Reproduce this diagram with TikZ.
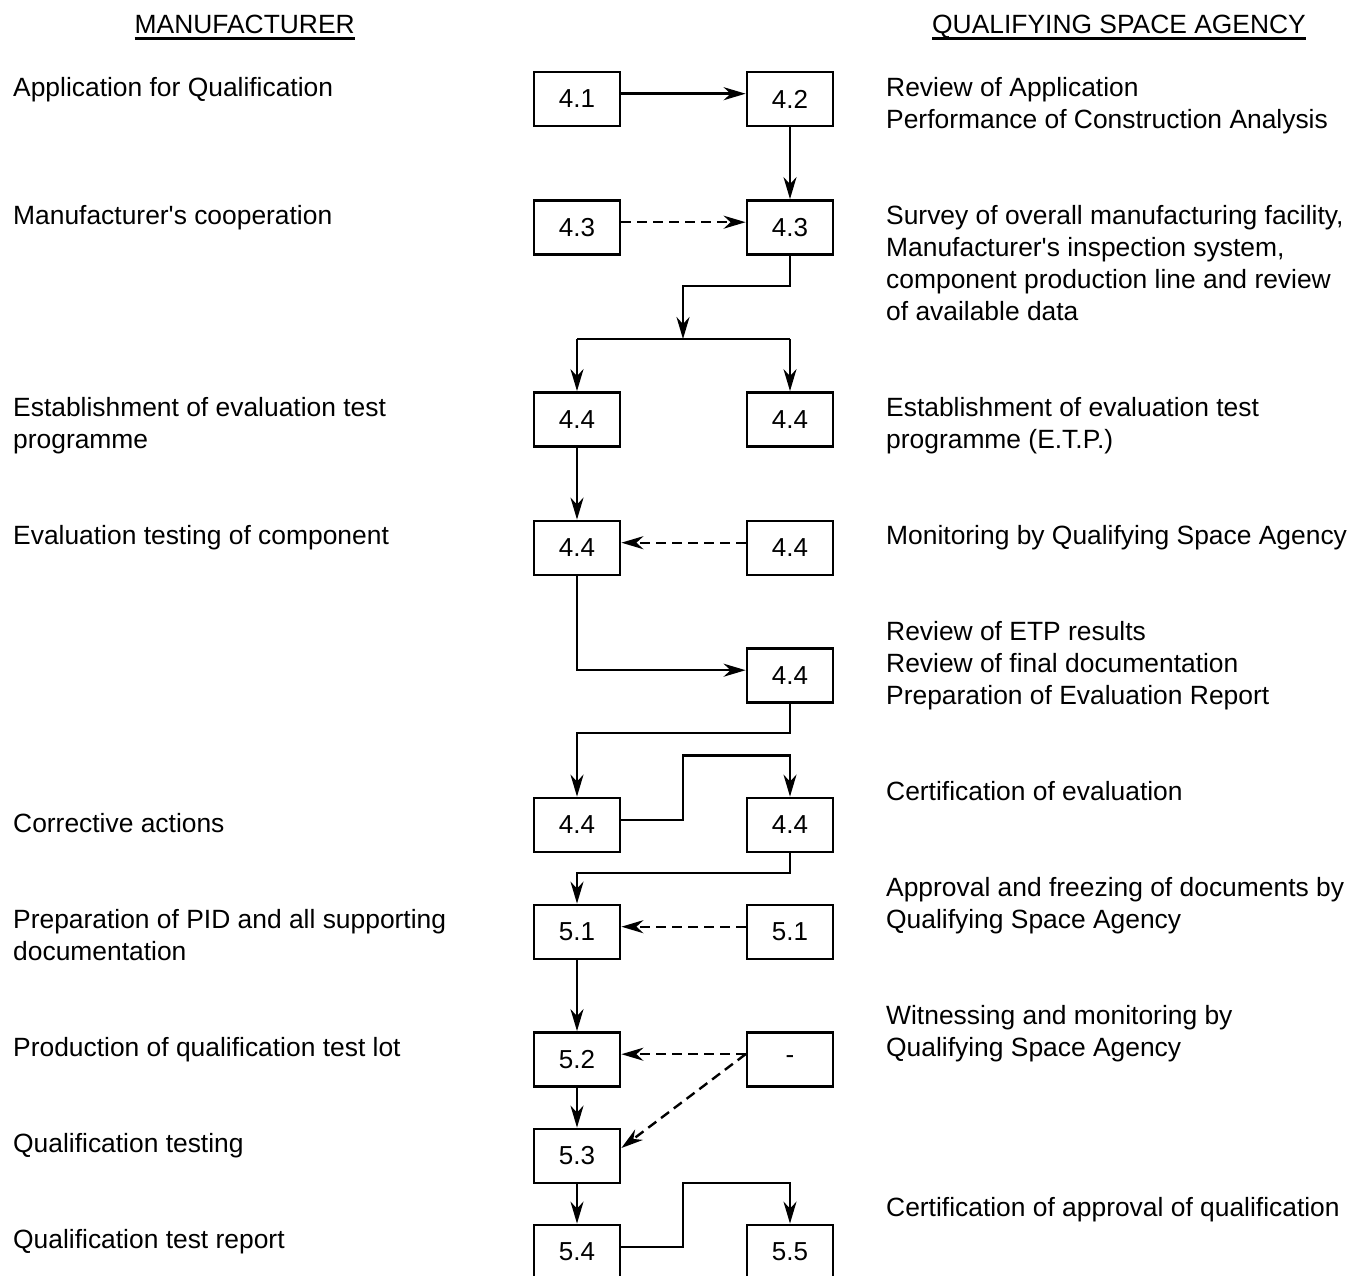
\documentclass[tikz,border=0pt]{standalone}
\usepackage{fontspec}
\setmainfont{Liberation Sans}
\usetikzlibrary{arrows.meta}
\begin{document}
\begin{tikzpicture}[x=1pt,y=-1pt,
  box/.style={draw, line width=2.8pt, minimum width=86pt, minimum height=54pt, inner sep=0pt, font=\fontsize{26}{31}\selectfont},
  lbl/.style={anchor=north west, inner sep=0pt, align=left, font=\fontsize{26.4}{32}\selectfont},
  head/.style={anchor=base west, inner sep=0pt, font=\fontsize{26.4}{32}\selectfont},
  conn/.style={line width=2.4pt},
  arr/.style={line width=2.4pt, -{Stealth[length=22pt,width=13pt,inset=7pt]}},
  dsh/.style={arr, dash pattern=on 10pt off 6pt}]
\clip (0,0) rectangle (1353,1276);
\fill[white] (0,0) rectangle (1353,1276);

% headers
\node[head] (hm) at (134.5,33.5) {MANUFACTURER};
\node[head] (hq) at (932,33.5) {QUALIFYING SPACE AGENCY};
\draw[line width=2.4pt] ([yshift=-5pt]hm.base west) -- ([yshift=-5pt]hm.base east);
\draw[line width=2.4pt] ([yshift=-5pt]hq.base west) -- ([yshift=-5pt]hq.base east);

% left texts
\node[lbl] (l1) at (13,74.1) {\strut Application for Qualification};
\node[lbl] (l2) at (13,202.1) {\strut Manufacturer\textquotesingle s cooperation};
\node[lbl] (l3) at (13,394.1) {\strut Establishment of evaluation test\\programme};
\node[lbl] (l4) at (13,522.1) {\strut Evaluation testing of component};
\node[lbl] (l5) at (13,810.1) {\strut Corrective actions};
\node[lbl] (l6) at (13,906.1) {\strut Preparation of PID and all supporting\\documentation};
\node[lbl] (l7) at (13,1034.1) {\strut Production of qualification test lot};
\node[lbl] (l8) at (13,1130.1) {\strut Qualification testing};
\node[lbl] (l9) at (13,1226.1) {\strut Qualification test report};

% right texts
\node[lbl] (r1) at (886,74.1) {\strut Review of Application\\Performance of Construction Analysis};
\node[lbl] (r2) at (886,202.1) {\strut Survey of overall manufacturing facility,\\Manufacturer\textquotesingle s inspection system,\\component production line and review\\of available data};
\node[lbl] (r3) at (886,394.1) {\strut Establishment of evaluation test\\programme (E.T.P.)};
\node[lbl] (r4) at (886,522.1) {\strut Monitoring by Qualifying Space Agency};
\node[lbl] (r5) at (886,618.1) {\strut Review of ETP results\\Review of final documentation\\Preparation of Evaluation Report};
\node[lbl] (r6) at (886,778.1) {\strut Certification of evaluation};
\node[lbl] (r7) at (886,874.1) {\strut Approval and freezing of documents by\\Qualifying Space Agency};
\node[lbl] (r8) at (886,1002.1) {\strut Witnessing and monitoring by\\Qualifying Space Agency};
\node[lbl] (r9) at (886,1194.1) {\strut Certification of approval of qualification};

% boxes
\node[box] (b41) at (577,99) {4.1};
\node[box] (b42) at (790,99) {4.2};
\node[box] (b43a) at (577,227.5) {4.3};
\node[box] (b43b) at (790,227.5) {4.3};
\node[box] (b44a) at (577,419.5) {4.4};
\node[box] (b44b) at (790,419.5) {4.4};
\node[box] (b44c) at (577,548) {4.4};
\node[box] (b44d) at (790,548) {4.4};
\node[box] (b44e) at (790,675.5) {4.4};
\node[box] (b44f) at (577,825) {4.4};
\node[box] (b44g) at (790,825) {4.4};
\node[box] (b51a) at (577,932) {5.1};
\node[box] (b51b) at (790,932) {5.1};
\node[box] (b52) at (577,1059.5) {5.2};
\node[box] (bdash) at (790,1059.5) {-};
\node[box] (b53) at (577,1156) {5.3};
\node[box] (b54) at (577,1252) {5.4};
\node[box] (b55) at (790,1252) {5.5};

% junction coordinates
\coordinate (j1) at (683,286);
\coordinate (j2) at (683,339);
\coordinate (j3) at (790,733);
\coordinate (j4) at (683,755.5);
\coordinate (j5) at (790,873);
\coordinate (j6) at (683,1183);

% connectors
\draw[arr] ([yshift=5.3pt]b41.east) -- ([yshift=5.3pt]b42.west);
\draw[arr] (b42.south) -- (b43b.north);
\draw[dsh] ([yshift=5.3pt]b43a.east) -- ([yshift=5.3pt]b43b.west);
\draw[arr] (b43b.south) |- (j1) -- (j2);
\draw[conn] (j2 -| b44a) -- (j2 -| b44b);
\draw[arr] (j2 -| b44a) -- (b44a.north);
\draw[arr] (j2 -| b44b) -- (b44b.north);
\draw[arr] (b44a.south) -- (b44c.north);
\draw[dsh] ([yshift=5.3pt]b44d.west) -- ([yshift=5.3pt]b44c.east);
\draw[arr] (b44c.south) |- ([yshift=5.3pt]b44e.west);
\draw[arr] (b44e.south) -- (j3) -| (b44f.north);
\draw[arr] ([yshift=5.3pt]b44f.east) -| (j4) -| (b44g.north);
\draw[arr] (b44g.south) -- (j5) -| (b51a.north);
\draw[dsh] ([yshift=5.3pt]b51b.west) -- ([yshift=5.3pt]b51a.east);
\draw[arr] (b51a.south) -- (b52.north);
\draw[dsh] ([yshift=5.3pt]bdash.west) -- ([yshift=5.3pt]b52.east);
\draw[dsh] ([yshift=5.3pt]bdash.west) -- ([yshift=8pt]b53.east);
\draw[arr] (b52.south) -- (b53.north);
\draw[arr] (b53.south) -- (b54.north);
\draw[arr] ([yshift=5.3pt]b54.east) -| (j6) -| (b55.north);
\end{tikzpicture}
\end{document}
